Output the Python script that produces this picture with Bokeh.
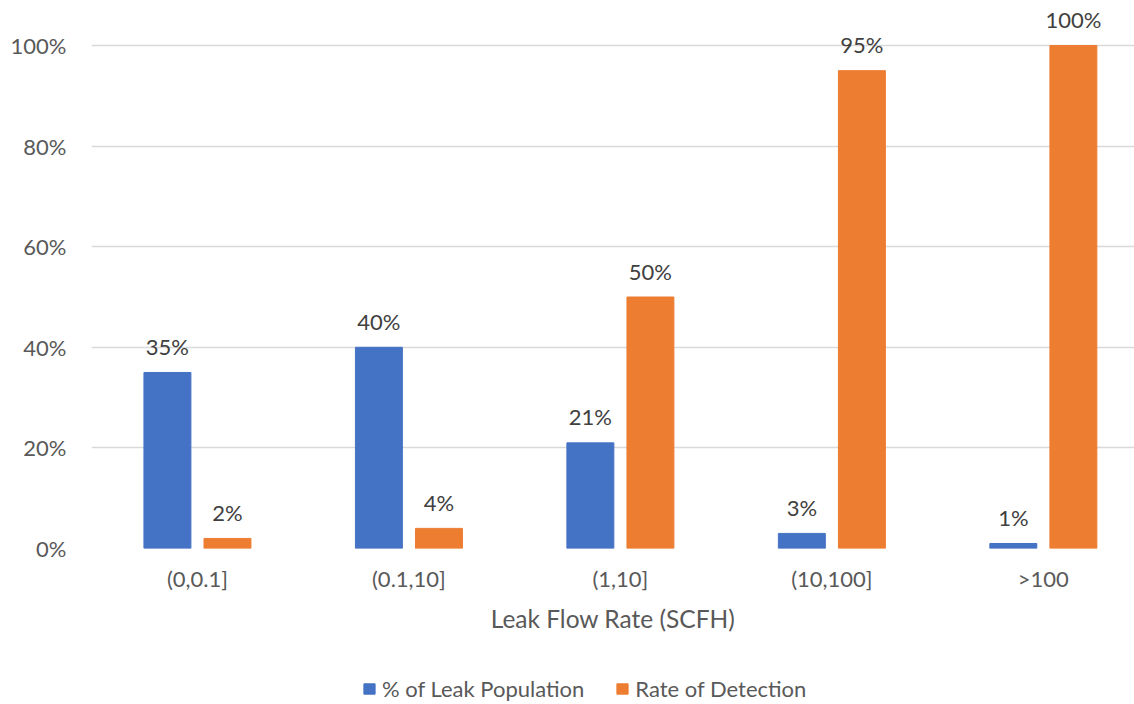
from bokeh.plotting import figure
from bokeh.layouts import column
from bokeh.models import (ColumnDataSource, Range1d, FixedTicker, LabelSet, Legend,
                          LegendItem, NumeralTickFormatter)
from bokeh.core.properties import value
from bokeh.transform import dodge
from bokeh.embed import file_html
from bokeh.resources import INLINE

categories = ["(0,0.1]", "(0.1,10]", "(1,10]", "(10,100]", ">100"]
leak_population = [0.35, 0.40, 0.21, 0.03, 0.01]
detection_rate = [0.02, 0.04, 0.50, 0.95, 1.00]
y_ticks = [0, 0.2, 0.4, 0.6, 0.8, 1.0]
series_names = ["% of Leak Population", "Rate of Detection"]

BLUE = "#4472C4"
ORANGE = "#ED7D31"
FONT = "Lato"
TXT = "#595959"

idx = list(range(len(categories)))
src = ColumnDataSource(dict(
    x=idx,
    pop=leak_population,
    det=detection_rate,
    pop_lbl=[f"{round(v*100)}%" for v in leak_population],
    det_lbl=[f"{round(v*100)}%" for v in detection_rate],
))

p = figure(width=1134, height=673, output_backend="svg", toolbar_location=None,
           x_range=Range1d(-0.501, 4.431), y_range=Range1d(0, 1.0895),
           min_border_left=91, min_border_right=0, min_border_top=0, min_border_bottom=125)
p.outline_line_color = None

off = 0.142
w = 0.222
p.vbar(x=dodge("x", -off, range=p.x_range), top="pop", width=w, source=src,
       fill_color=BLUE, line_color=BLUE)
p.vbar(x=dodge("x", off, range=p.x_range), top="det", width=w, source=src,
       fill_color=ORANGE, line_color=ORANGE)

for col, lbl, sign in (("pop", "pop_lbl", -1), ("det", "det_lbl", 1)):
    ls = LabelSet(x=dodge("x", sign * off, range=p.x_range), y=col, text=lbl, source=src,
                  text_align="center", text_baseline="middle", y_offset=26,
                  text_font=value(FONT), text_font_size="22px", text_color="#404040")
    p.add_layout(ls)

# axes
p.xaxis.ticker = FixedTicker(ticks=idx)
p.xaxis.major_label_overrides = {i: c for i, c in zip(idx, categories)}
p.xaxis.axis_line_color = None
p.xaxis.major_tick_line_color = None
p.xaxis.minor_tick_line_color = None
p.xaxis.major_label_standoff = 10
p.xaxis.major_label_text_font = FONT
p.xaxis.major_label_text_font_size = "22px"
p.xaxis.major_label_text_color = TXT
p.xaxis.axis_label = "Leak Flow Rate (SCFH)"
p.xaxis.axis_label_text_font = FONT
p.xaxis.axis_label_text_font_size = "24.5px"
p.xaxis.axis_label_text_font_style = "normal"
p.xaxis.axis_label_text_color = TXT
p.xaxis.axis_label_standoff = 9

p.yaxis.ticker = FixedTicker(ticks=y_ticks)
p.yaxis.formatter = NumeralTickFormatter(format="0%")
p.yaxis.axis_line_color = None
p.yaxis.major_tick_line_color = None
p.yaxis.minor_tick_line_color = None
p.yaxis.major_label_standoff = 19
p.yaxis.major_label_text_font = FONT
p.yaxis.major_label_text_font_size = "22px"
p.yaxis.major_label_text_color = TXT

p.xgrid.grid_line_color = None
p.ygrid.ticker = FixedTicker(ticks=y_ticks)
p.ygrid.grid_line_color = "#D9D9D9"
p.ygrid.grid_line_width = 1.5

# legend strip: same series, drawn outside its own visible range so only the legend shows
lg = figure(width=1134, height=31, output_backend="svg", toolbar_location=None,
            x_range=Range1d(-0.5, 4.5), y_range=Range1d(2, 3),
            x_axis_location=None, y_axis_location=None,
            min_border_left=0, min_border_right=0, min_border_top=0, min_border_bottom=0)
lg.outline_line_color = None
lg.xgrid.visible = False
lg.ygrid.visible = False
g1 = lg.vbar(x="x", top="pop", width=w, source=src, fill_color=BLUE, line_color=BLUE)
g2 = lg.vbar(x="x", top="det", width=w, source=src, fill_color=ORANGE, line_color=ORANGE)

legend = Legend(items=[LegendItem(label=series_names[0], renderers=[g1]),
                       LegendItem(label=series_names[1], renderers=[g2])],
                orientation="horizontal", location=(271, 2),
                label_text_font=FONT, label_text_font_size="22px", label_text_color=TXT,
                glyph_width=14, glyph_height=13, label_standoff=6, spacing=31,
                border_line_color=None, background_fill_alpha=0,
                margin=0, padding=0)
lg.add_layout(legend, "center")

layout = column(p, lg, spacing=0)
open("out.html", "w").write(file_html(layout, INLINE))
